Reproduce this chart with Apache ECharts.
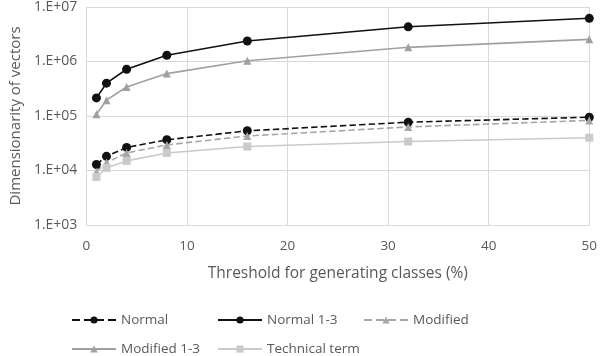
<!DOCTYPE html>
<html><head><meta charset="utf-8">
<script src="https://cdn.jsdelivr.net/npm/echarts@6/dist/echarts.min.js"></script>
<style>html,body{margin:0;padding:0;background:#fff}#c{width:600px;height:356px}</style>
</head><body><div id="c"></div>
<script>
const xs = [1, 2, 4, 8, 16, 32, 50];
const normal = [12900, 18200, 26500, 36600, 53500, 77000, 95000];
const normal13 = [215000, 400000, 720000, 1300000, 2380000, 4330000, 6200000];
const modified = [9500, 14000, 21000, 29500, 43000, 63000, 83000];
const modified13 = [108000, 195000, 340000, 600000, 1030000, 1820000, 2550000];
const technical = [7600, 11200, 15000, 21000, 27500, 34000, 40000];
const names = ['Normal', 'Normal 1-3', 'Modified', 'Modified 1-3', 'Technical term'];

const FONT = 'Open Sans';
const TXT = '#595959';
function pts(v){ return xs.map((x,i)=>[x, v[i]]); }
function mk(name, data, color, type, symbol, size){
  return {name, type:'line', data:pts(data), symbol, symbolSize:size,
    lineStyle:{color, width:1.6, type}, itemStyle:{color}, z: 2};
}
const chart = echarts.init(document.getElementById('c'));
const legendPos = [[66,308],[212,308],[358,308],[66,337],[212,337]];
chart.setOption({
  animation:false,
  grid:{left:82, right:10, top:5, bottom:131},
  xAxis:{type:'value', min:0, max:50, interval:10,
    axisLine:{show:false}, axisTick:{show:false},
    splitLine:{lineStyle:{color:'#d9d9d9', width:1}},
    axisLabel:{color:TXT, fontFamily:FONT, fontSize:13.5, margin:14},
    name:'Threshold for generating classes (%)', nameLocation:'middle', nameGap:41,
    nameTextStyle:{color:TXT, fontFamily:FONT, fontSize:15.5}},
  yAxis:{type:'log', logBase:10, min:1000, max:10000000,
    axisLine:{show:false}, axisTick:{show:false},
    splitLine:{lineStyle:{color:'#d9d9d9', width:1}},
    axisLabel:{color:TXT, fontFamily:FONT, fontSize:14, margin:9,
      formatter:v=>'1.E+0'+Math.round(Math.log10(v))},
    name:'Dimensionarity of vectors', nameLocation:'middle', nameGap:62,
    nameTextStyle:{color:TXT, fontFamily:FONT, fontSize:15}},
  legend: names.map((n,i)=>({data:[n], left:legendPos[i][0], top:legendPos[i][1],
    itemWidth:44, itemHeight:9, itemGap:0,
    textStyle:{color:TXT, fontFamily:FONT, fontSize:13.5}})),
  series:[
    mk('Normal', normal, '#111', 'dashed', 'circle', 9),
    mk('Normal 1-3', normal13, '#111', 'solid', 'circle', 9),
    mk('Modified', modified, '#a6a6a6', 'dashed', 'triangle', 8),
    mk('Modified 1-3', modified13, '#a0a0a0', 'solid', 'triangle', 8),
    mk('Technical term', technical, '#cacaca', 'solid', 'rect', 8)
  ]
});
</script></body></html>
